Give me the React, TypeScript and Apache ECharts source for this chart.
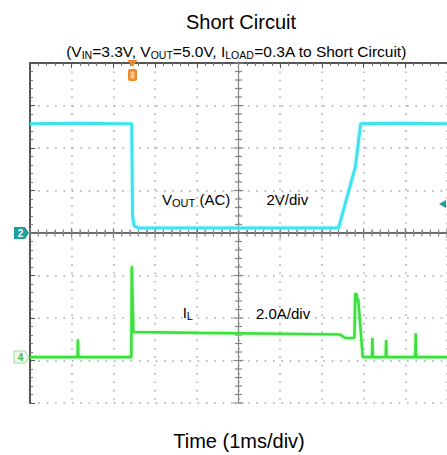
import React, { useEffect, useRef } from "react";
import * as echarts from "echarts";

// Time axis in divisions (1 ms/div), vertical axis in divisions
const xDivisions = [0, 10];
const yDivisions = [-4, 4];

// VOUT (AC), channel 2, 2V/div  [x div, y div]
const voutTrace: [number, number][] = [
  [0, 2.57], [1.2, 2.58], [2.0, 2.57], [2.44, 2.57],
  [2.46, 0.4], [2.5, 0.16], [2.6, 0.12], [4.0, 0.12], [6.0, 0.12], [7.4, 0.12],
  [7.8, 1.55], [7.93, 2.57], [8.8, 2.58], [10, 2.57],
];

// IL, channel 4, 2.0A/div  [x div, y div]
const ilTrace: [number, number][] = [
  [0, -2.92], [1.14, -2.92], [1.15, -2.5], [1.16, -2.92], [2.43, -2.92],
  [2.44, -0.78], [2.48, -2.33], [4.0, -2.35], [6.0, -2.37], [7.44, -2.39],
  [7.56, -2.47], [7.78, -2.47], [7.8, -1.42], [7.84, -1.46], [7.82, -1.6],
  [7.87, -1.55], [7.98, -2.92],
  [8.2, -2.92], [8.21, -2.47], [8.22, -2.92], [8.53, -2.92], [8.54, -2.52],
  [8.55, -2.92], [9.24, -2.92], [9.25, -2.36], [9.26, -2.92], [10, -2.92],
];

const FONT = "'Liberation Sans', Arial, sans-serif";

export default function App() {
  const ref = useRef<HTMLDivElement>(null);
  useEffect(() => {
    if (!ref.current) return;
    const chart = echarts.init(ref.current, undefined, { renderer: "svg" });
    const dotted = { color: "#a8a8a8", type: [1.6, 6.78] as any, width: 1.5 };
    const axisCommon = {
      type: "value" as const,
      axisLabel: { show: false },
      axisLine: { show: true, lineStyle: { color: "#555", width: 2 } },
      axisTick: { show: true, inside: true, length: 5, lineStyle: { color: "#555", width: 1 } },
      minorTick: { show: true, splitNumber: 5, length: 3, lineStyle: { color: "#777", width: 1 } },
    };
    chart.setOption({
      animation: false,
      backgroundColor: "#fff",
      grid: { left: 30, top: 63, width: 419, height: 340 },
      xAxis: [
        { ...axisCommon, position: "bottom", min: xDivisions[0], max: xDivisions[1], interval: 1, splitLine: { show: true, lineStyle: dotted } },
        { ...axisCommon, position: "top", min: xDivisions[0], max: xDivisions[1], interval: 1, splitLine: { show: false } },
      ],
      yAxis: [
        { ...axisCommon, position: "left", min: yDivisions[0], max: yDivisions[1], interval: 1, splitLine: { show: true, lineStyle: dotted } },
      ],
      series: [
        {
          type: "custom",
          xAxisIndex: 0,
          yAxisIndex: 0,
          silent: true,
          z: 1,
          data: [[0, 0]],
          renderItem: (_p: any, api: any) => {
            const children: any[] = [];
            const st = { stroke: "#858585", lineWidth: 1.2 };
            const a = api.coord([xDivisions[0], 0]);
            const b = api.coord([xDivisions[1], 0]);
            children.push({ type: "line", shape: { x1: a[0], y1: a[1], x2: b[0], y2: b[1] }, style: st });
            const c = api.coord([5, yDivisions[0]]);
            const d = api.coord([5, yDivisions[1]]);
            children.push({ type: "line", shape: { x1: c[0], y1: c[1], x2: d[0], y2: d[1] }, style: st });
            for (let i = 0; i <= 50; i++) {
              const p = api.coord([i / 5, 0]);
              const len = i % 5 === 0 ? 5 : 3.5;
              children.push({ type: "line", shape: { x1: p[0], y1: p[1] - len, x2: p[0], y2: p[1] + len }, style: st });
            }
            for (let j = -20; j <= 20; j++) {
              const p = api.coord([5, j / 5]);
              const len = j % 5 === 0 ? 5 : 3.5;
              children.push({ type: "line", shape: { x1: p[0] - len, y1: p[1], x2: p[0] + len, y2: p[1] }, style: st });
            }
            return { type: "group", children };
          },
        },
        {
          type: "line",
          data: voutTrace,
          showSymbol: false,
          z: 3,
          lineStyle: { color: "#3fe2f0", width: 3, shadowColor: "rgba(120,240,250,0.6)", shadowBlur: 3 },
        },
        {
          type: "line",
          data: ilTrace,
          showSymbol: false,
          z: 3,
          lineStyle: { color: "#3ddf3d", width: 2.6, shadowColor: "rgba(120,240,120,0.6)", shadowBlur: 3 },
        },
      ],
      graphic: [
        { type: "text", z: 100, style: { text: "Short Circuit", x: 241, y: 22, align: "center", verticalAlign: "middle", font: `20px ${FONT}`, fill: "#000" } },
        {
          type: "text",
          z: 100,
          style: {
            text: "{m|(V}{s|IN}{m|=3.3V, V}{s|OUT}{m|=5.0V, I}{s|LOAD}{m|=0.3A to Short Circuit)}",
            x: 236.5, y: 51, align: "center", verticalAlign: "middle",
            rich: {
              m: { fontSize: 15.5, fontFamily: FONT, fill: "#000", lineHeight: 18 },
              s: { fontSize: 10.5, fontFamily: FONT, fill: "#000", lineHeight: 8.6, verticalAlign: "bottom" },
            },
          },
        },
        { type: "text", z: 100, style: { text: "Time (1ms/div)", x: 239, y: 441, align: "center", verticalAlign: "middle", font: `20px ${FONT}`, fill: "#000" } },
        {
          type: "text",
          z: 100,
          style: {
            text: "{m|V}{s|OUT}{m| (AC)}", x: 162, y: 199, align: "left", verticalAlign: "middle",
            rich: {
              m: { fontSize: 15, fontFamily: FONT, fill: "#000", lineHeight: 18 },
              s: { fontSize: 11, fontFamily: FONT, fill: "#000", lineHeight: 15.3, verticalAlign: "bottom" },
            },
          },
        },
        { type: "text", z: 100, style: { text: "2V/div", x: 266.5, y: 199, align: "left", verticalAlign: "middle", font: `15px ${FONT}`, fill: "#000" } },
        {
          type: "text",
          z: 100,
          style: {
            text: "{m|I}{s|L}", x: 182.7, y: 312.5, align: "left", verticalAlign: "middle",
            rich: {
              m: { fontSize: 15, fontFamily: FONT, fill: "#000", lineHeight: 18 },
              s: { fontSize: 11, fontFamily: FONT, fill: "#000", lineHeight: 15.3, verticalAlign: "bottom" },
            },
          },
        },
        { type: "text", z: 100, style: { text: "2.0A/div", x: 256, y: 313, align: "left", verticalAlign: "middle", font: `15px ${FONT}`, fill: "#000" } },
        // channel 2 marker
        { type: "polygon", z: 100, shape: { points: [[14, 227], [25, 227], [29, 233], [25, 239], [14, 239]] }, style: { fill: "#1f9e9e" } },
        { type: "text", z: 101, style: { text: "2", x: 20.5, y: 233.5, align: "center", verticalAlign: "middle", font: `bold 10px ${FONT}`, fill: "#fff" } },
        // channel 4 marker
        { type: "polygon", z: 100, shape: { points: [[14, 351], [25, 351], [29, 357], [25, 363], [14, 363]] }, style: { fill: "#eef9ee", stroke: "#9ade9a", lineWidth: 1 } },
        { type: "text", z: 101, style: { text: "4", x: 20.5, y: 357.5, align: "center", verticalAlign: "middle", font: `bold 10px ${FONT}`, fill: "#45b845" } },
        // trigger marker
        { type: "polygon", z: 100, shape: { points: [[127.5, 60], [137.5, 60], [132.5, 67]] }, style: { fill: "#e8892e" } },
        { type: "rect", z: 100, shape: { x: 128, y: 69, width: 9, height: 12, r: 2 }, style: { fill: "#ee8a2c" } },
        { type: "rect", z: 101, shape: { x: 130.5, y: 71.5, width: 4, height: 7 }, style: { fill: "#f9c893" } },
        // trigger level arrow
        { type: "polygon", z: 100, shape: { points: [[439, 204], [446, 200], [446, 208]] }, style: { fill: "#1f9e9e" } },
      ],
    });
    return () => chart.dispose();
  }, []);
  return <div ref={ref} style={{ position: "fixed", left: 0, top: 0, width: 447, height: 455 }} />;
}
